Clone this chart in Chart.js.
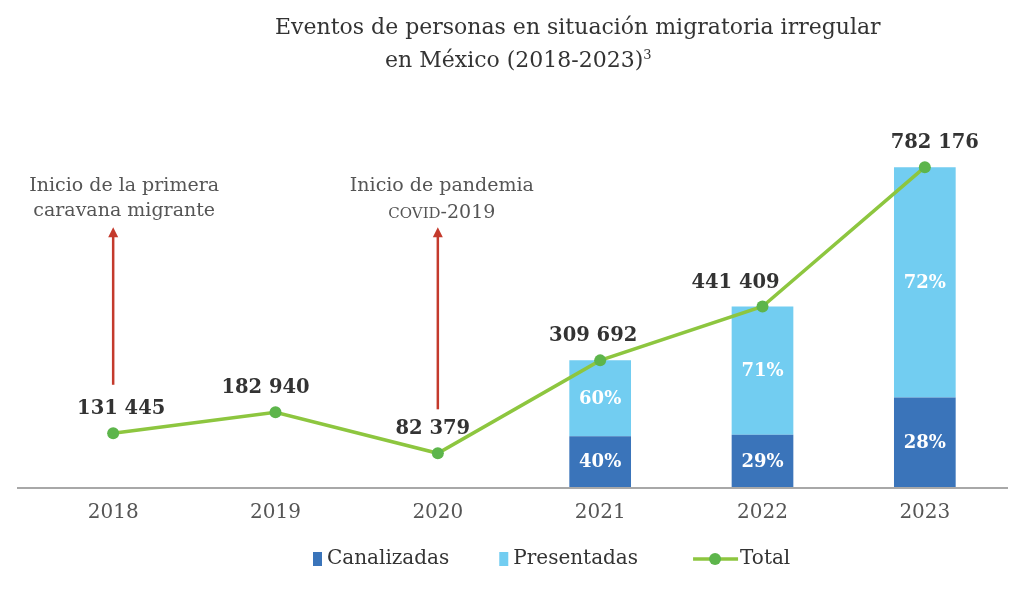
<!DOCTYPE html>
<html><head><meta charset="utf-8">
<script src="https://cdn.jsdelivr.net/npm/chart.js@4.4.1/dist/chart.umd.min.js"></script>
<style>
html,body{margin:0;padding:0;background:#fff;}
#wrap{position:relative;width:1024px;height:590px;overflow:hidden;}
canvas{position:absolute;left:0;top:0;}
.t{position:absolute;font-family:"DejaVu Serif",serif;font-size:22px;color:#333;white-space:nowrap;line-height:1;}
.t sup{font-size:13px;vertical-align:top;position:relative;top:-1px;}
</style></head><body>
<div id="wrap">
<canvas id="c" width="1024" height="590"></canvas>
<div class="t" style="left:275px;top:16px">Eventos de personas en situación migratoria irregular</div>
<div class="t" style="left:385px;top:49px">en México (2018-2023)<sup>3</sup></div>
</div>
<script>
const years = ['2018','2019','2020','2021','2022','2023'];
const totals = [131445,182940,82379,309692,441409,782176];
const canalizadas = [null,null,null,123877,128009,219009];
const presentadas = [null,null,null,185815,313400,563167];
const pctCanalizadas = [null,null,null,'40%','29%','28%'];
const pctPresentadas = [null,null,null,'60%','71%','72%'];
const totalLabels = ['131 445','182 940','82 379','309 692','441 409','782 176'];
const seriesNames = ['Canalizadas','Presentadas','Total'];
const notes = [
  {year:'2018', from:250000, to:635000, lines:['Inicio de la primera','caravana migrante']},
  {year:'2020', from:190000, to:635000, lines:['Inicio de pandemia','COVID-2019']}
];

const C_DARK = '#3A74BA', C_LIGHT = '#72CDF1', C_LINE = '#8DC63F', C_PT = '#5DB54B', C_RED = '#C43A2C';
const SERIF = '"DejaVu Serif", serif';
const labelShift = [8,-10,-5,-7,-27,10];
const noteShift = [11,4];

const decor = {
  id:'decor',
  beforeDatasetsDraw(chart){
    const ctx = chart.ctx, a = chart.chartArea;
    ctx.save();
    ctx.strokeStyle = '#A8A8A8'; ctx.lineWidth = 2;
    ctx.beginPath(); ctx.moveTo(17, a.bottom + 1); ctx.lineTo(1008, a.bottom + 1); ctx.stroke();
    ctx.restore();
  },
  afterDatasetsDraw(chart){
    const ctx = chart.ctx, xs = chart.scales.x, ys = chart.scales.y;
    ctx.save();
    ctx.textAlign = 'center'; ctx.textBaseline = 'middle';
    ctx.fillStyle = '#fff'; ctx.font = 'bold 18px ' + SERIF;
    [[0,pctCanalizadas],[1,pctPresentadas]].forEach(([di, arr]) => {
      chart.getDatasetMeta(di).data.forEach((el, i) => {
        if (!arr[i]) return;
        ctx.fillText(arr[i], el.x, (el.y + el.base) / 2 + 1);
      });
    });
    ctx.fillStyle = '#333'; ctx.font = 'bold 19.5px ' + SERIF;
    chart.getDatasetMeta(2).data.forEach((el, i) => {
      ctx.fillText(totalLabels[i], el.x + labelShift[i], el.y - 24);
    });
    notes.forEach((n, k) => {
      const x = xs.getPixelForValue(years.indexOf(n.year));
      const y0 = ys.getPixelForValue(n.from), y1 = ys.getPixelForValue(n.to);
      ctx.strokeStyle = C_RED; ctx.fillStyle = C_RED; ctx.lineWidth = 2.5;
      ctx.beginPath(); ctx.moveTo(x, y0); ctx.lineTo(x, y1 + 8); ctx.stroke();
      ctx.beginPath(); ctx.moveTo(x, y1); ctx.lineTo(x - 5, y1 + 10); ctx.lineTo(x + 5, y1 + 10); ctx.closePath(); ctx.fill();
      const cx = x + noteShift[k];
      ctx.fillStyle = '#555';
      n.lines.forEach((ln, j) => {
        const ty = y1 - 41 + j * 25;
        const m = ln.match(/^([A-Z]{2,})(.*)$/);
        if (m) {
          ctx.font = '15px ' + SERIF; const w1 = ctx.measureText(m[1]).width;
          ctx.font = '19px ' + SERIF; const w2 = ctx.measureText(m[2]).width;
          const sx = cx - (w1 + w2) / 2;
          ctx.textAlign = 'left'; ctx.textBaseline = 'alphabetic';
          ctx.font = '15px ' + SERIF; ctx.fillText(m[1], sx, ty + 7);
          ctx.font = '19px ' + SERIF; ctx.fillText(m[2], sx + w1, ty + 7);
          ctx.textAlign = 'center'; ctx.textBaseline = 'middle';
        } else {
          ctx.font = '19px ' + SERIF; ctx.fillText(ln, cx, ty);
        }
      });
    });
    ctx.restore();
  },
  afterDraw(chart){
    const ctx = chart.ctx;
    ctx.save();
    ctx.font = '20px ' + SERIF; ctx.textBaseline = 'middle'; ctx.textAlign = 'left';
    const y = 559;
    let x = 313;
    ctx.fillStyle = C_DARK; ctx.fillRect(x, y - 7, 9, 14); x += 14;
    ctx.fillStyle = '#333'; ctx.fillText(seriesNames[0], x, y); x += ctx.measureText(seriesNames[0]).width + 50;
    ctx.fillStyle = C_LIGHT; ctx.fillRect(x, y - 7, 9, 14); x += 14;
    ctx.fillStyle = '#333'; ctx.fillText(seriesNames[1], x, y); x += ctx.measureText(seriesNames[1]).width + 55;
    ctx.strokeStyle = C_LINE; ctx.lineWidth = 3.5;
    ctx.beginPath(); ctx.moveTo(x, y); ctx.lineTo(x + 45, y); ctx.stroke();
    ctx.fillStyle = C_PT; ctx.beginPath(); ctx.arc(x + 22, y, 6, 0, Math.PI * 2); ctx.fill();
    x += 47;
    ctx.fillStyle = '#333'; ctx.fillText(seriesNames[2], x, y);
    ctx.restore();
  }
};

new Chart(document.getElementById('c'), {
  data: {
    labels: years,
    datasets: [
      {type:'bar', label:seriesNames[0], data:canalizadas, backgroundColor:C_DARK, stack:'s', order:2, barPercentage:0.38, categoryPercentage:1},
      {type:'bar', label:seriesNames[1], data:presentadas, backgroundColor:C_LIGHT, stack:'s', order:2, barPercentage:0.38, categoryPercentage:1},
      {type:'line', label:seriesNames[2], data:totals, borderColor:C_LINE, borderWidth:3.5, pointRadius:6, pointHoverRadius:6,
       pointBackgroundColor:C_PT, pointBorderWidth:0, tension:0, order:0}
    ]
  },
  options: {
    responsive:false, animation:false,
    layout:{padding:{left:32, right:18, top:119, bottom:51}},
    plugins:{legend:{display:false}, tooltip:{enabled:false}, title:{display:false}},
    scales:{
      x:{stacked:true, grid:{display:false, drawTicks:false}, border:{display:false},
         ticks:{color:'#555', padding:14, font:{family:SERIF, size:20}}},
      y:{stacked:true, display:false, min:0, max:900000}
    }
  },
  plugins:[decor]
});
</script>
</body></html>
